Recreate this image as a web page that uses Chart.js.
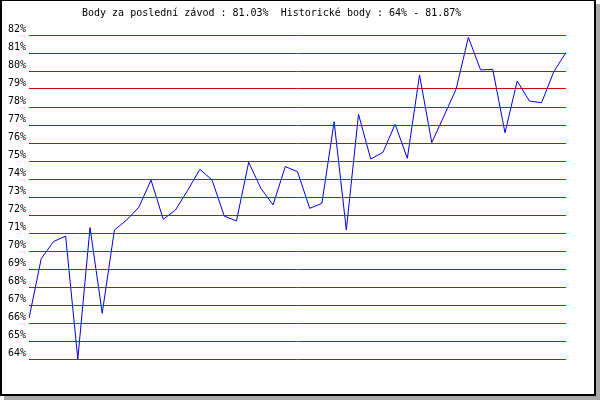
<!DOCTYPE html>
<html>
<head>
<meta charset="utf-8">
<script src="https://cdn.jsdelivr.net/npm/chart.js@4/dist/chart.umd.min.js"></script>
<style>
  html, body { margin: 0; padding: 0; background: #ffffff; }
  #frame {
    position: absolute; left: 0; top: 0;
    width: 596px; height: 396px; box-sizing: border-box;
    border-style: solid; border-color: #000; border-width: 1px 2px 2px 2px;
    background: #fff;
    box-shadow: 4px 4px 0 #a9a9a9;
  }
  #c { position: absolute; left: 0; top: 0; }
</style>
</head>
<body>
<div id="frame"></div>
<canvas id="c" width="600" height="400"></canvas>
<script>
const titleText = 'Body za poslední závod : 81.03%  Historické body : 64% - 81.87%';
const races = Array.from({length: 45}, (_, i) => String(i + 1));
const scores = [
  66.26, 69.57, 70.52, 70.83, 64.00, 71.30, 66.54, 71.17, 71.72, 72.43,
  73.94, 71.76, 72.28, 73.37, 74.54, 73.94, 71.94, 71.67, 74.93, 73.48,
  72.56, 74.69, 74.41, 72.37, 72.65, 77.18, 71.17, 77.59, 75.11, 75.48,
  77.04, 75.15, 79.78, 76.02, 77.50, 79.00, 81.87, 80.06, 80.09, 76.57,
  79.44, 78.33, 78.24, 79.96, 81.03
];
const yMin = 64;
const yMax = 82;

const FONT = '"DejaVu Sans Mono", "Liberation Mono", monospace';

const titlePlugin = {
  id: 'fixedTitle',
  afterDraw(chart) {
    const ctx = chart.ctx;
    ctx.save();
    ctx.font = '10px ' + FONT;
    ctx.fillStyle = '#000';
    ctx.textAlign = 'left';
    ctx.textBaseline = 'middle';
    ctx.fillText(titleText, 82, 13);
    ctx.restore();
  }
};

new Chart(document.getElementById('c'), {
  type: 'line',
  data: {
    labels: races,
    datasets: [{
      data: scores,
      borderColor: '#0000dd',
      borderWidth: 1,
      pointRadius: 0,
      tension: 0,
      fill: false
    }]
  },
  options: {
    responsive: false,
    animation: false,
    devicePixelRatio: 1,
    layout: { padding: { top: 35, bottom: 41, right: 34, left: 0 } },
    plugins: { legend: { display: false }, title: { display: false }, tooltip: { enabled: false } },
    scales: {
      x: { display: false, offset: false },
      y: {
        min: yMin, max: yMax,
        afterFit(scale) { scale.width = 29; },
        border: { display: false },
        grid: { color: '#dd0000', lineWidth: 1, drawTicks: false },
        ticks: {
          stepSize: 1,
          padding: 3,
          labelOffset: -6,
          color: '#000',
          font: { family: FONT, size: 10 },
          callback: v => v + '%'
        }
      }
    }
  },
  plugins: [titlePlugin]
});
</script>
</body>
</html>
